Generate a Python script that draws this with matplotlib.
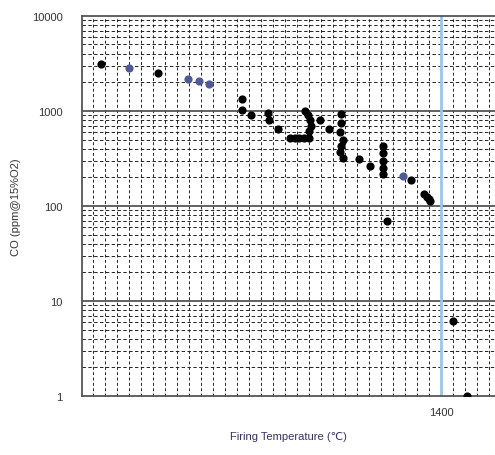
import numpy as np
import matplotlib
matplotlib.use("Agg")
import matplotlib.pyplot as plt

plt.rcParams["font.family"] = ["Liberation Sans", "DejaVu Sans"]

# black points: firing temperature (deg C) and CO (ppm @15% O2)
temp_black = [1117, 1164, 1234, 1234, 1242, 1256, 1257, 1264,
              1274, 1278, 1282, 1286, 1290, 1287, 1289, 1291, 1292, 1290,
              1299, 1307, 1317, 1317, 1316, 1318, 1317, 1316, 1318,
              1332, 1341, 1352, 1352, 1352, 1352, 1352,
              1375, 1386, 1388, 1390, 1391, 1355, 1410, 1422]
co_black = [3125, 2510, 1337, 1025, 908, 950, 800, 646,
            520, 520, 520, 520, 520, 1000, 900, 800, 700, 620,
            804, 646, 930, 750, 600, 500, 430, 370, 320,
            312, 264, 426, 360, 300, 250, 217,
            188, 134, 125, 118, 112, 69.5, 6.2, 1.0]

# slate-blue points
temp_blue = [1140, 1189, 1198, 1207, 1368]
co_blue = [2835, 2170, 2070, 1925, 207]

ref_temp = 1400

fig = plt.figure(figsize=(4.95, 4.56), dpi=100)
ax = fig.add_axes([0.166, 0.1294, 0.834, 0.8336])

ax.set_yscale("log")
ax.set_ylim(1, 10000)
ax.set_xlim(1101, 1445)

# dashed minor grid, solid decade lines
for t in np.arange(1110, 1445, 10):
    ax.axvline(t, color="#222222", lw=0.7, ls=(0, (3, 2.5)), zorder=1)
for dec in [1, 10, 100, 1000]:
    for m in range(2, 10):
        ax.axhline(dec * m, color="#222222", lw=0.7, ls=(0, (3.5, 2.5)), zorder=1)
for dec in [10, 100, 1000]:
    ax.axhline(dec, color="#555555", lw=1.3, zorder=1)

ax.axvline(ref_temp, color="#9cc4ea", lw=2, zorder=2)

ax.scatter(temp_black, co_black, s=24, color="black", zorder=3)
ax.scatter(temp_blue, co_blue, s=24, color="#4d5a94", zorder=3)

ax.set_yticks([1, 10, 100, 1000, 10000])
ax.set_yticklabels(["1", "10", "100", "1000", "10000"])
ax.yaxis.set_minor_locator(matplotlib.ticker.NullLocator())
ax.set_xticks([ref_temp])
ax.set_xticklabels(["1400"])
ax.tick_params(length=0, labelsize=8, labelcolor="#333333", pad=14)
ax.tick_params(axis="x", pad=8)

for s in ["left", "bottom", "top"]:
    ax.spines[s].set_color("#555555")
    ax.spines[s].set_linewidth(1.3)
ax.spines["right"].set_visible(False)

ax.set_xlabel("Firing Temperature (\u2103)", fontsize=8, color="#333366", labelpad=10)
ax.set_ylabel("CO (ppm@15%O2)", fontsize=8, color="#333333", labelpad=8)

fig.savefig("out.png", dpi=100)
